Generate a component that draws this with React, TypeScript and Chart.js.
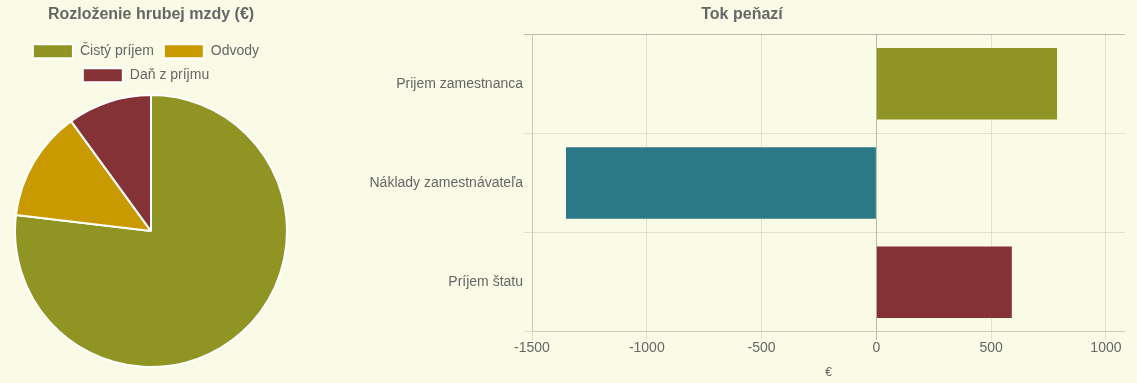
import React, { useEffect, useRef } from "react";
import { Chart, registerables } from "chart.js";

Chart.register(...registerables);

const BG = "#fafbe6";

// Pie: Rozloženie hrubej mzdy (€)
const pieLabels = ["Čistý príjem", "Odvody", "Daň z príjmu"];
const pieValues = [769, 131, 100];
const pieColors = ["#8f9423", "#c99a00", "#853236"];

// Bar: Tok peňazí
const barLabels = ["Prijem zamestnanca", "Náklady zamestnávateľa", "Príjem štatu"];
const barValues = [787, -1352, 590];
const barColors = ["#8f9423", "#2b7986", "#853236"];
const xTicks = [-1500, -1000, -500, 0, 500, 1000];
const xMin = -1500;
const xMax = 1083;

const gridColor = (ctx: any) =>
  ctx.tick && ctx.tick.value === 0 ? "rgba(0,0,0,0.25)" : "rgba(0,0,0,0.1)";

const legendShift = {
  id: "legendShift",
  afterLayout(chart: any) {
    if (chart.legend) {
      chart.legend.left -= 5;
      chart.legend.right -= 5;
    }
  },
};

export default function App() {
  const pieRef = useRef<HTMLCanvasElement>(null);
  const barRef = useRef<HTMLCanvasElement>(null);

  useEffect(() => {
    const pie = new Chart(pieRef.current!, {
      type: "pie",
      data: {
        labels: pieLabels,
        datasets: [
          {
            data: pieValues,
            backgroundColor: pieColors,
            borderColor: "#ffffff",
            borderWidth: 2,
          },
        ],
      },
      options: {
        responsive: false,
        animation: false,
        layout: { padding: 0 },
        plugins: {
          title: {
            display: true,
            text: "Rozloženie hrubej mzdy (€)",
            color: "#666",
            font: { size: 16, weight: "bold" },
            padding: { top: 5, bottom: 10 },
          },
          legend: {
            display: true,
            position: "top",
            labels: { color: "#666", font: { size: 14 }, boxWidth: 40 },
          },
          tooltip: { enabled: false },
        },
      },
      plugins: [legendShift],
    });

    const bar = new Chart(barRef.current!, {
      type: "bar",
      data: {
        labels: barLabels,
        datasets: [
          {
            data: barValues,
            backgroundColor: barColors,
            borderWidth: 0,
          },
        ],
      },
      options: {
        indexAxis: "y",
        responsive: false,
        animation: false,
        layout: { padding: 0 },
        scales: {
          x: {
            min: xMin,
            max: xMax,
            afterBuildTicks: (axis: any) => {
              axis.ticks = xTicks.map((v) => ({ value: v }));
            },
            ticks: {
              color: "#666",
              font: { size: 14 },
              padding: 0,
              callback: (v: any) => String(v),
            },
            grid: { color: gridColor },
            title: {
              display: true,
              text: "€",
              color: "#666",
              font: { size: 12 },
              padding: { top: 9, bottom: 3 },
            },
          },
          y: {
            ticks: { color: "#666", font: { size: 14 }, padding: 1 },
            grid: { color: gridColor },
            afterFit: (axis: any) => {
              axis.width = 173;
            },
          },
        },
        plugins: {
          title: {
            display: true,
            text: "Tok peňazí",
            color: "#666",
            font: { size: 16, weight: "bold" },
            padding: { top: 5, bottom: 10 },
          },
          legend: { display: false },
          tooltip: { enabled: false },
        },
      },
    });

    return () => {
      pie.destroy();
      bar.destroy();
    };
  }, []);

  return (
    <div
      style={{
        position: "fixed",
        left: 0,
        top: 0,
        width: 1137,
        height: 383,
        background: BG,
        overflow: "hidden",
      }}
    >
      <canvas
        ref={pieRef}
        width={274}
        height={370}
        style={{ position: "absolute", left: 14, top: 0, width: 274, height: 370 }}
      />
      <canvas
        ref={barRef}
        width={766}
        height={383}
        style={{ position: "absolute", left: 359, top: 0, width: 766, height: 383 }}
      />
    </div>
  );
}
